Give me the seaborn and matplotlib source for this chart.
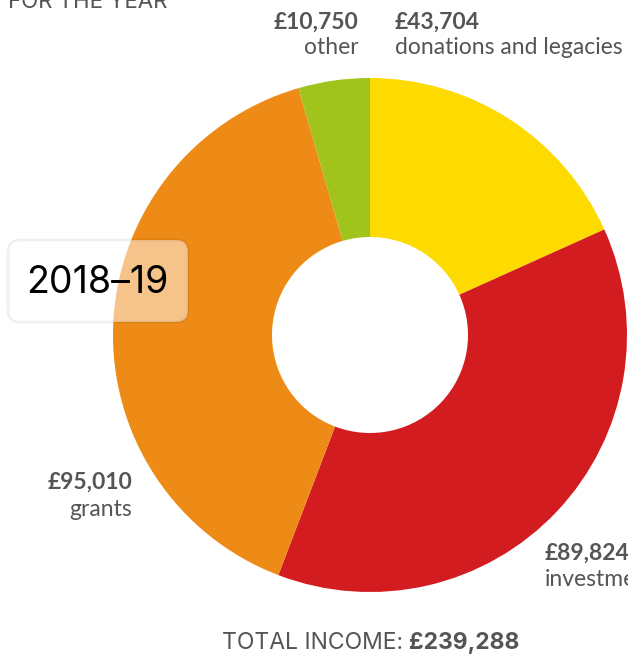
import matplotlib.pyplot as plt
import seaborn as sns
from matplotlib.patches import FancyBboxPatch

# income for the year 2018-19
categories = ['donations and legacies', 'investments', 'grants', 'other']
values = [43704, 89824, 95010, 10750]
value_labels = ['£43,704', '£89,824', '£95,010', '£10,750']
total_label = '£239,288'
year_label = '2018–19'

sns.set_theme(style='white')
plt.rcParams['font.family'] = ['Lato', 'DejaVu Sans']

colors = ['#FDDB00', '#D31C20', '#EE8A16', '#A0C41C']
grey = '#555555'
fs = 16.5

fig = plt.figure(figsize=(6.28, 6.59), dpi=100)
ax = fig.add_axes([0, 0, 1, 1])

# donut, drawn in pixel-like coords (y going down)
ax.pie(values, colors=colors, startangle=90, counterclock=False,
       center=(370, -335), radius=257, frame=True,
       wedgeprops=dict(width=159, linewidth=0))
ax.set_xlim(0, 628)
ax.set_ylim(-659, 0)
ax.set_aspect('equal')
ax.axis('off')

# labels around the donut
ax.text(359, -22, value_labels[3], ha='right', va='center', fontsize=fs, fontweight='bold', color=grey)
ax.text(359, -48, categories[3], ha='right', va='center', fontsize=fs, color=grey)
ax.text(395, -22, value_labels[0], ha='left', va='center', fontsize=fs, fontweight='bold', color=grey)
ax.text(395, -48, categories[0], ha='left', va='center', fontsize=fs, color=grey)
ax.text(132, -482, value_labels[2], ha='right', va='center', fontsize=fs, fontweight='bold', color=grey)
ax.text(132, -509, categories[2], ha='right', va='center', fontsize=fs, color=grey)
ax.text(545, -553, value_labels[1], ha='left', va='center', fontsize=fs, fontweight='bold', color=grey)
ax.text(545, -580, categories[1], ha='left', va='center', fontsize=fs, color=grey)

# year badge: half-transparent white with a faint edge
box = FancyBboxPatch((8, -322), 180, 82, boxstyle='round,pad=0,rounding_size=12',
                     facecolor=(1, 1, 1, 0.5), edgecolor=(0, 0, 0, 0.06),
                     linewidth=2, zorder=3)
ax.add_patch(box)
ax.text(97, -283, year_label, ha='center', va='center', fontsize=27,
        family=['Inter', 'DejaVu Sans'], color='black', zorder=4)

# header (cropped) and total
ax.text(8, -2, 'FOR THE YEAR', ha='left', va='center', fontsize=16,
        family=['Inter', 'DejaVu Sans'], color=grey)
ax.text(409, -643, 'TOTAL INCOME: ', ha='right', va='center', fontsize=16.5,
        family=['Inter', 'DejaVu Sans'], color=grey)
ax.text(409, -643, total_label, ha='left', va='center', fontsize=16.5, fontweight='bold',
        family=['Inter', 'DejaVu Sans'], color=grey)

fig.savefig('out.png', dpi=100)
